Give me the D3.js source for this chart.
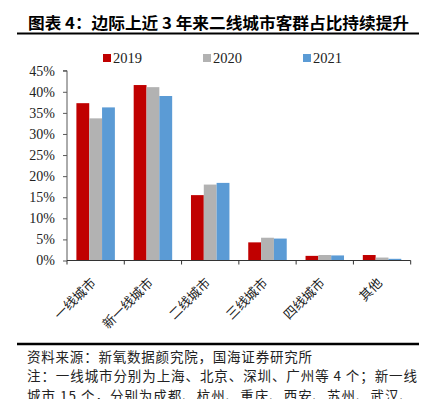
<!DOCTYPE html>
<html>
<head>
<meta charset="utf-8">
<script src="https://cdn.jsdelivr.net/npm/d3@7"></script>
<style>
  body { margin: 0; background: #fff; }
  svg { display: block; }
</style>
</head>
<body>
<script>
// chart data
const categories = ['一线城市', '新一线城市', '二线城市', '三线城市', '四线城市', '其他'];
const years = ['2019', '2020', '2021'];
const v2019 = [37.3, 41.6, 15.5, 4.3, 1.1, 1.3];
const v2020 = [33.7, 41.1, 18.0, 5.4, 1.3, 0.7];
const v2021 = [36.3, 39.0, 18.4, 5.2, 1.2, 0.4];
const yTicks = [0, 5, 10, 15, 20, 25, 30, 35, 40, 45];
const colors = ['#C00000', '#B2B2B2', '#5B9BD5'];

const title = '图表 4：边际上近 3 年来二线城市客群占比持续提升';
const notes = [
  '资料来源：新氧数据颜究院，国海证券研究所',
  '注：一线城市分别为上海、北京、深圳、广州等 4 个；新一线',
  '城市 15 个，分别为成都、杭州、重庆、西安、苏州、武汉、'
];

const series = [v2019, v2020, v2021];
const rows = categories.map((c, i) => ({ cat: c, vals: years.map((y, j) => ({ year: y, v: series[j][i] })) }));

const W = 425, H = 399;
const plot = { left: 67, right: 410.7, top: 70.7, bottom: 260.5 };

const svg = d3.select('body').append('svg')
  .attr('width', W)
  .attr('height', H);

svg.append('rect').attr('width', W).attr('height', H).attr('fill', '#fff');

// title + rule
svg.append('text')
  .attr('x', 28)
  .attr('y', 28.5)
  .attr('font-family', 'Noto Sans CJK SC')
  .attr('font-weight', 'bold')
  .attr('font-size', 16)
  .attr('textLength', 381)
  .attr('lengthAdjust', 'spacingAndGlyphs')
  .attr('fill', '#000')
  .text(title);

svg.append('line')
  .attr('x1', 17).attr('x2', 419)
  .attr('y1', 33.5).attr('y2', 33.5)
  .attr('stroke', '#000').attr('stroke-width', 2);

const x0 = d3.scaleBand()
  .domain(categories)
  .range([plot.left, plot.right])
  .padding(0);

const pad = 9.4;
const x1 = d3.scaleBand()
  .domain(years)
  .range([pad, x0.bandwidth() - pad]);

const y = d3.scaleLinear()
  .domain([0, 45])
  .range([plot.bottom, plot.top]);

const color = d3.scaleOrdinal().domain(years).range(colors);

// bars
const groups = svg.selectAll('.grp')
  .data(rows)
  .enter().append('g')
  .attr('class', 'grp')
  .attr('transform', d => `translate(${x0(d.cat)},0)`);

groups.selectAll('rect')
  .data(d => d.vals)
  .enter().append('rect')
  .attr('x', d => x1(d.year))
  .attr('y', d => y(d.v))
  .attr('width', x1.bandwidth())
  .attr('height', d => y(0) - y(d.v))
  .attr('fill', d => color(d.year));

// y axis
const yAxis = svg.append('g')
  .attr('transform', `translate(${plot.left},0)`)
  .call(d3.axisLeft(y).tickValues(yTicks).tickSize(4).tickPadding(8).tickFormat(d => d + '%'));
yAxis.select('.domain').attr('stroke', '#595959').attr('d', `M-4,${y(45)}H0V${y(0)}`);
yAxis.selectAll('.tick line').attr('stroke', '#595959');
yAxis.selectAll('text')
  .attr('font-family', 'Liberation Serif')
  .attr('font-size', 14)
  .attr('fill', '#222');

// x axis
const xAxis = svg.append('g')
  .attr('transform', `translate(0,${plot.bottom})`)
  .call(d3.axisBottom(x0).tickSize(0).tickFormat(''));
xAxis.select('.domain').attr('stroke', '#333').attr('d', `M${plot.left},0H${plot.right}`);
xAxis.selectAll('.tick').remove();

const edges = categories.map(c => x0(c)).concat([plot.right]);
xAxis.selectAll('.edge')
  .data(edges)
  .enter().append('line')
  .attr('class', 'edge')
  .attr('x1', d => d).attr('x2', d => d)
  .attr('y1', 0).attr('y2', 4)
  .attr('stroke', '#333');

svg.selectAll('.xlab')
  .data(categories)
  .enter().append('text')
  .attr('class', 'xlab')
  .attr('transform', d => `translate(${x0(d) + x0.bandwidth() / 2 + 1},${plot.bottom + 23}) rotate(-45)`)
  .attr('text-anchor', 'end')
  .attr('font-family', 'Noto Sans CJK SC')
  .attr('font-size', 13)
  .attr('fill', '#222')
  .text(d => d);

// legend
const legend = svg.selectAll('.leg')
  .data(years)
  .enter().append('g')
  .attr('class', 'leg')
  .attr('transform', (d, i) => `translate(${103 + i * 100},54)`);
legend.append('rect')
  .attr('width', 8).attr('height', 8)
  .attr('fill', d => color(d));
legend.append('text')
  .attr('x', 10)
  .attr('y', 9)
  .attr('font-family', 'Liberation Serif')
  .attr('font-size', 14.5)
  .attr('fill', '#222')
  .text(d => d);

// footer
svg.append('line')
  .attr('x1', 17).attr('x2', 419)
  .attr('y1', 344).attr('y2', 344)
  .attr('stroke', '#000').attr('stroke-width', 2.5);

const noteLen = [285, 390, 386];
svg.selectAll('.note')
  .data(notes)
  .enter().append('text')
  .attr('class', 'note')
  .attr('x', 27)
  .attr('y', (d, i) => 362 + i * 19.3)
  .attr('font-family', 'Noto Sans CJK SC')
  .attr('font-size', 13.5)
  .attr('textLength', (d, i) => noteLen[i])
  .attr('lengthAdjust', 'spacing')
  .attr('fill', '#222')
  .text(d => d);
</script>
</body>
</html>
